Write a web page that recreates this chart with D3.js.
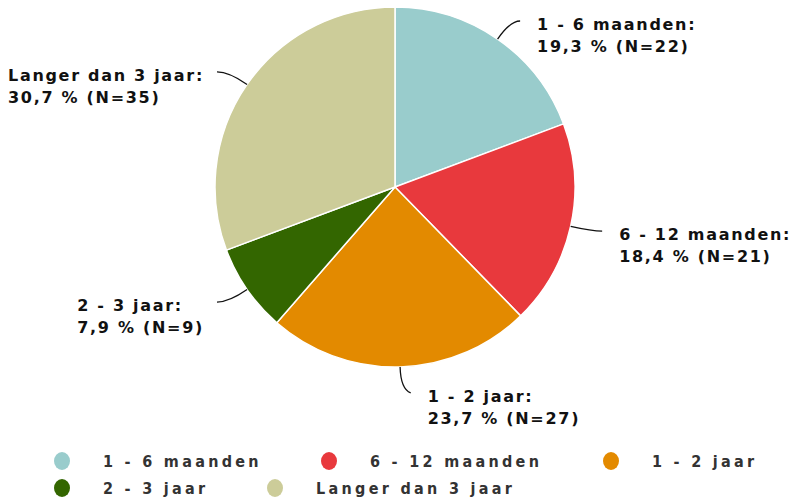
<!DOCTYPE html>
<html><head><meta charset="utf-8">
<script src="https://cdn.jsdelivr.net/npm/d3@7"></script>
<style>
body{margin:0;background:#fff;}
svg{display:block;}
</style></head>
<body>
<svg id="chart" width="791" height="502"></svg>
<script>
const categories = ["1 - 6 maanden", "6 - 12 maanden", "1 - 2 jaar", "2 - 3 jaar", "Langer dan 3 jaar"];
const percentages = [19.3, 18.4, 23.7, 7.9, 30.7];
const counts = [22, 21, 27, 9, 35];
const colors = ["#99CCCC", "#E8393D", "#E38A00", "#336600", "#CCCC99"];

const svg = d3.select("#chart");
const cx = 395, cy = 187, R = 180;
const g = svg.append("g").attr("transform", `translate(${cx},${cy})`);

const data = categories.map((c, i) => ({cat: c, pct: percentages[i], n: counts[i], color: colors[i]}));
const pie = d3.pie().value(d => d.pct).sort(null);
const arc = d3.arc().innerRadius(0).outerRadius(R);
const arcs = pie(data);

g.selectAll("path.slice").data(arcs).join("path")
  .attr("class", "slice")
  .attr("d", arc)
  .attr("fill", d => d.data.color)
  .attr("stroke", "#fff").attr("stroke-width", 1.5);

const fmt = v => v.toFixed(1).replace(".", ",");
function polar(a, r) { return [Math.sin(a) * r, -Math.cos(a) * r]; }

arcs.forEach(d => {
  const a = (d.startAngle + d.endAngle) / 2;
  const right = Math.sin(a) >= 0;
  const p0 = polar(a, R);
  const p1 = polar(a, 202);
  const end = [p1[0] + (right ? 10 : -12), p1[1] + (Math.abs(Math.sin(a)) < 0.2 ? 4 : 0)];
  g.append("path")
    .attr("d", `M${p0[0]},${p0[1]} Q${p1[0]},${p1[1]} ${end[0]},${end[1]}`)
    .attr("fill", "none").attr("stroke", "#111").attr("stroke-width", 1.3);
  const t = g.append("text")
    .attr("font-family", "'DejaVu Sans', Verdana, sans-serif")
    .attr("font-weight", "bold").attr("font-size", 16)
    .attr("letter-spacing", 1.7)
    .attr("fill", "#111");
  const lines = [d.data.cat + ":", `${fmt(d.data.pct)} % (N=${d.data.n})`];
  lines.forEach((l, i) => t.append("tspan").attr("dy", i === 0 ? 0 : 22).text(l));
  let w = 0;
  t.selectAll("tspan").each(function(){ w = Math.max(w, this.getComputedTextLength()); });
  const x = right ? end[0] + 17 : end[0] - 13 - w;
  t.attr("y", end[1] + 9);
  t.selectAll("tspan").attr("x", x);
});

// Legend
const legendCols = [62, 329, 611];
const legendItems = data.map((d, i) => ({...d, col: i % 3, row: Math.floor(i / 3)}));
const legendColsRow2 = [62, 275];
const lg = svg.append("g");
legendItems.forEach(d => {
  const x = d.row === 0 ? legendCols[d.col] : legendColsRow2[d.col];
  const y = 461 + d.row * 27;
  lg.append("ellipse").attr("cx", x).attr("cy", y).attr("rx", 8).attr("ry", 9).attr("fill", d.color);
  lg.append("text").attr("x", x + 41).attr("y", y + 6)
    .attr("font-family", "'DejaVu Sans Condensed', 'DejaVu Sans', sans-serif")
    .attr("font-weight", "bold").attr("font-size", 16)
    .attr("letter-spacing", 3.3)
    .attr("fill", "#333")
    .text(d.cat);
});
</script>
</body></html>
